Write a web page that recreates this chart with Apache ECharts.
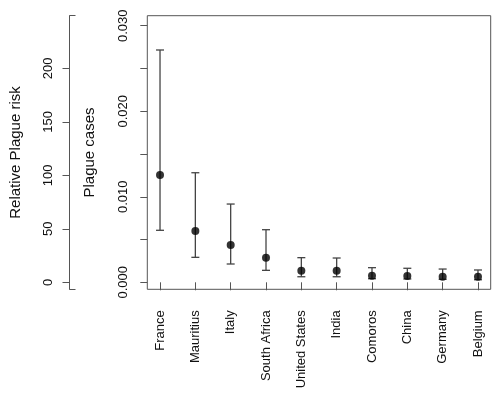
<!DOCTYPE html>
<html>
<head>
<meta charset="utf-8">
<script src="https://cdn.jsdelivr.net/npm/echarts@6/dist/echarts.min.js"></script>
<style>
html,body{margin:0;padding:0;background:#fff;}
#c{width:500px;height:396px;}
</style>
</head>
<body>
<div id="c"></div>
<script>
const categories = ['France','Mauritius','Italy','South Africa','United States','India','Comoros','China','Germany','Belgium'];
const cases = [0.01254, 0.0060, 0.00436, 0.00288, 0.00136, 0.00136, 0.00077, 0.00074, 0.00065, 0.00065];
const upper = [0.02716, 0.01281, 0.00915, 0.00615, 0.00288, 0.00284, 0.00171, 0.00164, 0.00155, 0.00144];
const lower = [0.00608, 0.00292, 0.00214, 0.00140, 0.00065, 0.00065, 0.00042, 0.00039, 0.00035, 0.00030];
const caseTicks = [0, 0.005, 0.010, 0.015, 0.020, 0.025, 0.030];
const caseLabels = [0, 0.010, 0.020, 0.030];
const riskTicks = [0, 50, 100, 150, 200];

const FONT = 'Liberation Sans, Arial, sans-serif';
const LINE = '#555';
const TXT = '#111';

const xPos = categories.map((c, i) => i + 1);
const caseMin = -0.000818, caseMax = 0.03117;
const riskMin = -6.5, riskMax = 249.2;

const chart = echarts.init(document.getElementById('c'), null, {renderer: 'canvas'});
chart.setOption({
  animation: false,
  backgroundColor: '#fff',
  grid: {left: 147.3, top: 15.7, width: 343.4, height: 273.6, show: true, borderColor: LINE, borderWidth: 1, containLabel: false},
  xAxis: {
    type: 'value', min: 0.64, max: 10.36,
    axisLine: {show: false},
    splitLine: {show: false},
    axisTick: {show: true, customValues: xPos, length: 8, lineStyle: {color: LINE}},
    axisLabel: {customValues: xPos, rotate: 90, margin: 21, fontSize: 13, fontFamily: FONT, color: TXT,
      formatter: v => categories[Math.round(v) - 1]}
  },
  yAxis: [
    {
      type: 'value', min: caseMin, max: caseMax, position: 'left',
      name: 'Plague cases', nameLocation: 'middle', nameRotate: 90, nameGap: 50,
      nameTextStyle: {fontSize: 15, fontFamily: FONT, color: TXT},
      axisLine: {show: false}, splitLine: {show: false},
      axisTick: {show: true, customValues: caseTicks, length: 7, lineStyle: {color: LINE}},
      axisLabel: {customValues: caseLabels, rotate: 90, margin: 17, fontSize: 13, fontFamily: FONT, color: TXT,
        formatter: v => v.toFixed(3)}
    },
    {
      type: 'value', min: riskMin, max: riskMax, position: 'left', offset: 77.8,
      name: 'Relative Plague risk', nameLocation: 'middle', nameRotate: 90, nameGap: 46,
      nameTextStyle: {fontSize: 15, fontFamily: FONT, color: TXT},
      axisLine: {show: true, onZero: false, lineStyle: {color: LINE}}, splitLine: {show: false},
      axisTick: {show: true, customValues: riskTicks, length: 7, lineStyle: {color: LINE}},
      axisLabel: {customValues: riskTicks, rotate: 90, margin: 15, fontSize: 13, fontFamily: FONT, color: TXT}
    },
    {
      type: 'value', min: riskMin, max: riskMax, position: 'left', offset: 77.8,
      axisLine: {show: false}, splitLine: {show: false},
      axisTick: {show: true, inside: true, customValues: [riskMin, riskMax], length: 6, lineStyle: {color: LINE}},
      axisLabel: {show: false}
    }
  ],
  series: [
    {
      type: 'custom',
      yAxisIndex: 0,
      data: xPos.map((x, i) => [x, lower[i], upper[i]]),
      encode: {x: 0, y: [1, 2]},
      renderItem: function (params, api) {
        const x = api.value(0);
        const pLo = api.coord([x, api.value(1)]);
        const pHi = api.coord([x, api.value(2)]);
        const hw = 4;
        const st = {stroke: '#444', lineWidth: 1.3};
        return {type: 'group', children: [
          {type: 'line', shape: {x1: pLo[0], y1: pLo[1], x2: pHi[0], y2: pHi[1]}, style: st},
          {type: 'line', shape: {x1: pLo[0] - hw, y1: pLo[1], x2: pLo[0] + hw, y2: pLo[1]}, style: st},
          {type: 'line', shape: {x1: pHi[0] - hw, y1: pHi[1], x2: pHi[0] + hw, y2: pHi[1]}, style: st}
        ]};
      },
      z: 2
    },
    {
      type: 'scatter',
      yAxisIndex: 0,
      data: xPos.map((x, i) => [x, cases[i]]),
      symbol: 'circle', symbolSize: 8,
      itemStyle: {color: '#000'},
      z: 3
    }
  ]
});
</script>
</body>
</html>
